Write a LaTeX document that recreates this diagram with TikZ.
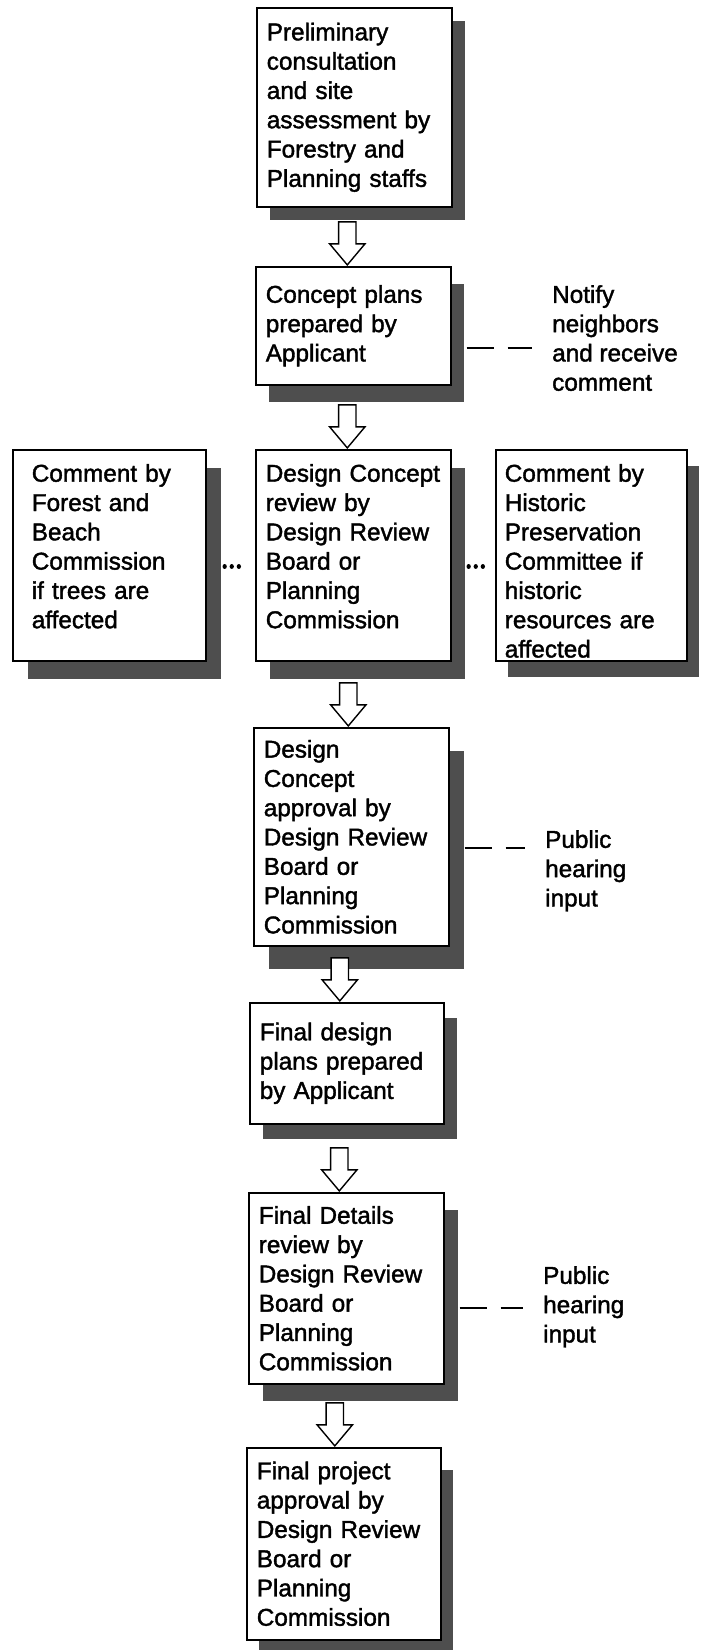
\documentclass[tikz,border=0pt]{standalone}
\usepackage{fontspec}
\setmainfont{Liberation Sans}[FakeBold=1.6]
\usetikzlibrary{shapes.arrows,shadows}

\definecolor{shadowgray}{RGB}{78,78,78}

\begin{document}
\begin{tikzpicture}[
    x=1pt, y=-1pt,
    font=\fontsize{24.3}{29.3}\selectfont,
    stepbox/.style={draw, line width=1.6pt, fill=white, anchor=north west,
        align=left, text width=175pt, inner xsep=10pt, inner ysep=8pt},
    rowbox/.style={stepbox, inner ysep=14.5pt, text height=17.4pt, text depth=165pt},
    boxshadow/.style 2 args={drop shadow={shadow xshift=#1, shadow yshift=-#2,
        fill=shadowgray, opacity=1}},
    flowarrow/.style={single arrow, draw, line width=1.4pt, fill=white,
        shape border rotate=270, anchor=tip, inner sep=8pt,
        minimum height=43pt, minimum width=34pt,
        single arrow head extend=9pt, single arrow tip angle=80},
    note/.style={anchor=north west, align=left, inner sep=0pt},
    sidelink/.style={line width=1.8pt, dash pattern=on 27pt off 14pt,
        shorten <=15pt, shorten >=20pt},
    dotlink/.style={line width=4.2pt, line cap=round, dash pattern=on 0.1pt off 7pt}
]

\useasboundingbox (0,0) rectangle (703,1650);

% ================= main column =================

\node[stepbox, boxshadow={13pt}{13pt}, minimum height=199pt] (b1) at (256,7)
    {Preliminary\\ consultation\\ and site\\ assessment by\\ Forestry and\\ Planning staffs};

\node[stepbox, boxshadow={13pt}{17pt}, minimum height=118pt] (b2) at (255,266)
    {Concept plans\\ prepared by\\ Applicant};

\node[stepbox, boxshadow={15pt}{23pt}, minimum height=218pt] (b4) at (253,727)
    {Design\\ Concept\\ approval by\\ Design Review\\ Board or\\ Planning\\ Commission};

\node[stepbox, boxshadow={13pt}{15pt}, minimum height=121pt, text width=174pt] (b5) at (249,1002)
    {Final design\\ plans prepared\\ by Applicant};

\node[stepbox, boxshadow={14pt}{17pt}, minimum height=191pt] (b6) at (248,1192)
    {Final Details\\ review by\\ Design Review\\ Board or\\ Planning\\ Commission};

\node[stepbox, boxshadow={12pt}{22pt}, minimum height=192pt, text width=174pt] (b7) at (246,1447)
    {Final project\\ approval by\\ Design Review\\ Board or\\ Planning\\ Commission};

% ================= review row =================

\node[rowbox, boxshadow={15pt}{18pt}, inner xsep=19pt, text width=155pt] (bl) at (12,449)
    {Comment by\\ Forest and\\ Beach\\ Commission\\ if trees are\\ affected};

\node[rowbox, boxshadow={14pt}{18pt}] (bc) at (255,449)
    {Design Concept\\ review by\\ Design Review\\ Board or\\ Planning\\ Commission};

\node[rowbox, boxshadow={12pt}{16pt}, inner xsep=9pt, text width=173pt] (br) at (495,449)
    {Comment by\\ Historic\\ Preservation\\ Committee if\\ historic\\ resources are\\ affected};

\draw[dotlink, shorten <=18pt, shorten >=10pt] ([yshift=-11pt]bl.east) -- ([yshift=-11pt]bc.west);
\draw[dotlink, shorten <=17pt, shorten >=12pt] ([yshift=-11pt]bc.east) -- ([yshift=-11pt]br.west);

% ================= arrows =================

\node[flowarrow] (a1) at ([xshift=-6pt]b2.north) {};
\node[flowarrow] (a2) at ([xshift=-6pt]bc.north) {};
\node[flowarrow] (a3) at ([xshift=-3pt]b4.north) {};
\node[flowarrow] (a4) at ([xshift=-7pt]b5.north) {};
\node[flowarrow] (a5) at ([xshift=-7pt]b6.north) {};
\node[flowarrow] (a6) at ([xshift=-9pt]b7.north) {};

% ================= side notes =================

\node[note] (n1) at (552,285) {Notify\\ neighbors\\ and receive\\ comment};
\node[note] (n2) at (545,830) {Public\\ hearing\\ input};
\node[note] (n3) at (543,1266) {Public\\ hearing\\ input};

\draw[sidelink] ([yshift=-22pt]b2.east) -- ([yshift=-22pt]b2.east -| n1.west);
\draw[sidelink] ([yshift=-11pt]b4.east) -- ([yshift=-11pt]b4.east -| n2.west);
\draw[sidelink] ([yshift=-20pt]b6.east) -- ([yshift=-20pt]b6.east -| n3.west);

\end{tikzpicture}
\end{document}
